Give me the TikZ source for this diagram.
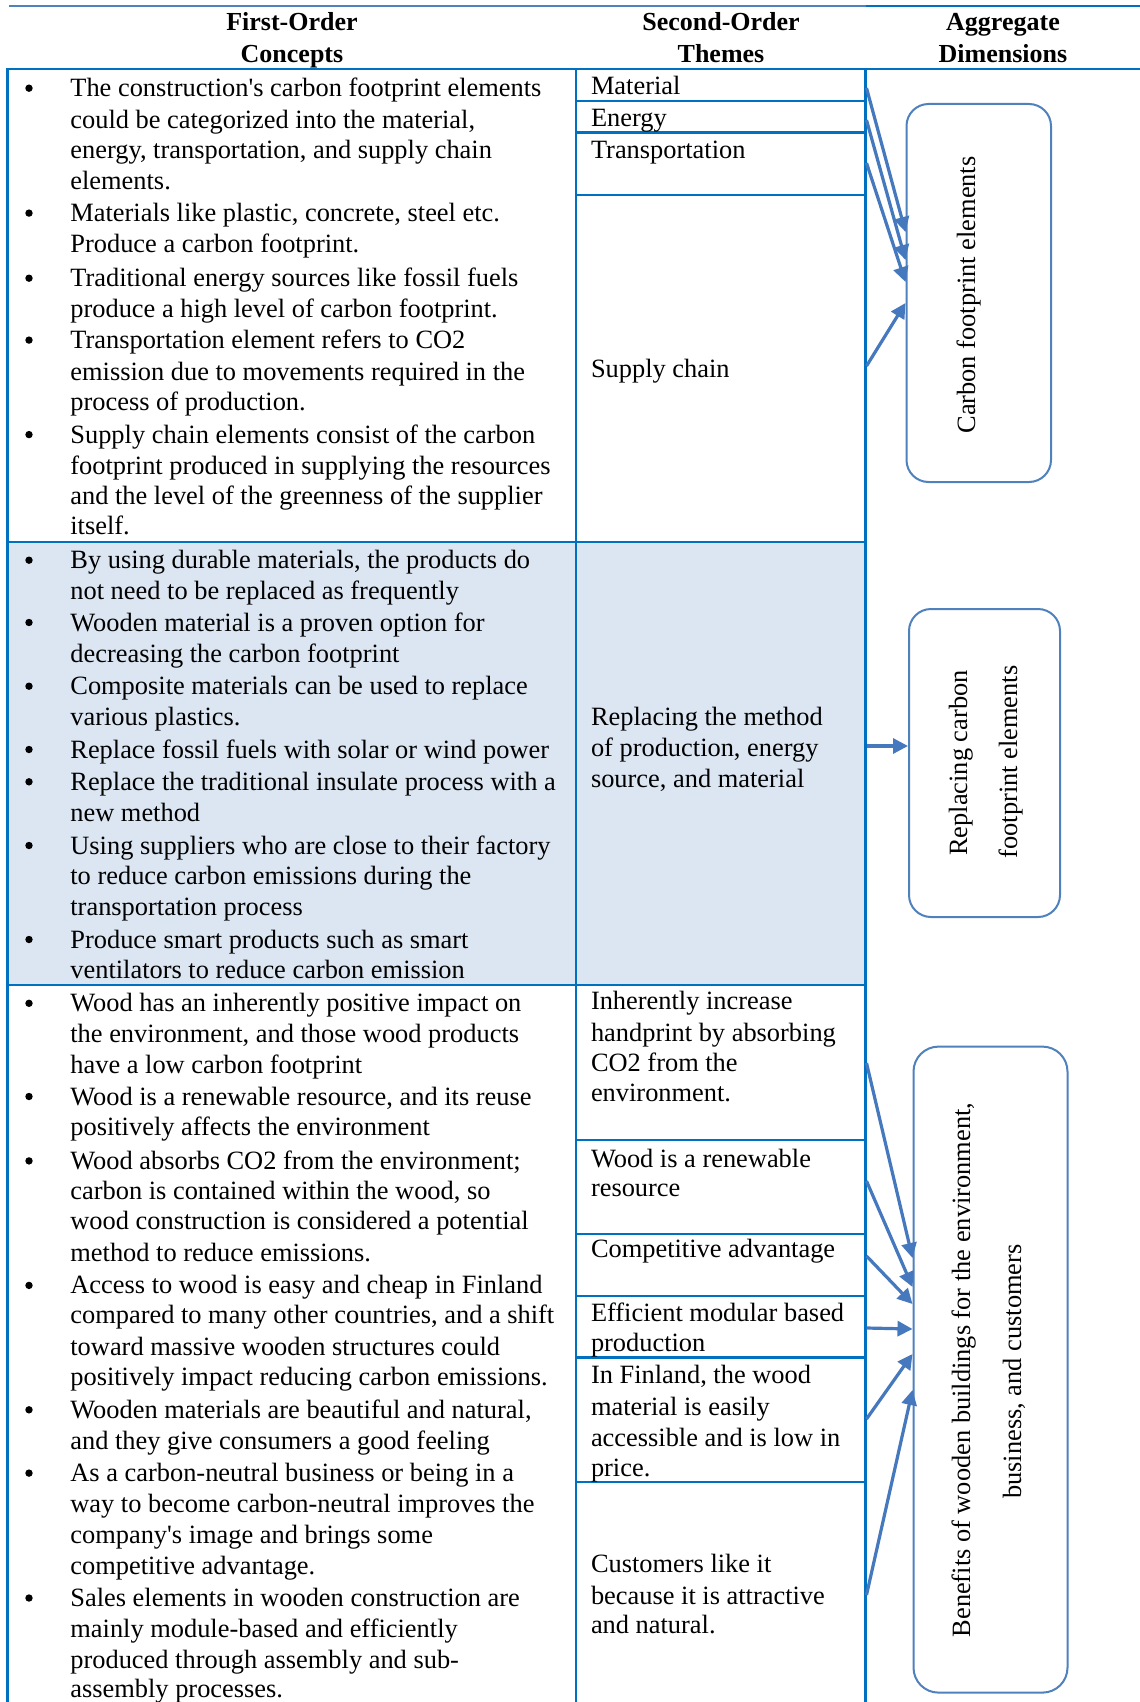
\documentclass[tikz,border=0pt]{standalone}
\usepackage{fontspec}
\setmainfont{Liberation Serif}
\usetikzlibrary{arrows.meta,fit}
\definecolor{tblue}{RGB}{0,112,192}
\definecolor{lblue}{RGB}{79,129,189}
\definecolor{ablue}{RGB}{70,120,190}
\definecolor{rowshade}{RGB}{220,230,242}
\newcommand\mytl[4]{\node[txt] (#1) at (#2,#3) {#4};}
\newcommand\mybul[2]{\node[bul] (#1) at (29,#2-8.5) {};}
\begin{document}
\begin{tikzpicture}[x=0.5pt,y=-0.5pt,
  tline/.style={draw=tblue,line width=1.2pt},
  cell/.style={draw=tblue,line width=1.2pt,inner sep=0pt,rectangle},
  txt/.style={anchor=base west,inner sep=0pt,font=\fontsize{13.2}{15}\selectfont},
  bul/.style={circle,fill=black,inner sep=0pt,minimum size=3.7pt},
  hdr/.style={anchor=base,inner sep=0pt,font=\fontsize{13}{15}\selectfont\bfseries},
  dimbox/.style={draw=lblue,line width=1pt,rounded corners=11pt,inner sep=0pt,rectangle},
  dimtxt/.style={anchor=base,rotate=90,inner sep=0pt,font=\fontsize{13.2}{15}\selectfont},
  arr/.style={draw=ablue,line width=1.6pt,-{Triangle[length=7.5pt,width=7.5pt]}}
]
\useasboundingbox (0,0) rectangle (1140,1702);
\clip (0,0) rectangle (1140,1702);
\fill[white] (0,0) rectangle (1140,1702);

% header lines
\draw[draw=lblue,line width=1.2pt] (8.7,6) -- (866,6);
\draw[tline] (866,6) -- (1140,6);
\node[hdr] (h1a) at (292,30.5) {First-Order};
\node[hdr] (h1b) at (292,62.7) {Concepts};
\node[hdr] (h2a) at (721,30.5) {Second-Order};
\node[hdr] (h2b) at (721,62.7) {Themes};
\node[hdr] (h3a) at (1003,30.5) {Aggregate};
\node[hdr] (h3b) at (1003,62.7) {Dimensions};

% table cells
\node[cell,fill=rowshade,fit={(7.6,541.7) (865.3,985)}] (shaderow) {};
\node[cell,fit={(7.6,69) (576,541.7)}] (r1) {};
\node[cell,fit={(7.6,541.7) (576,985)}] (r2) {};
\node[cell,fit={(7.6,985) (576,1730)}] (r3) {};
\node[cell,fit={(576,69) (865.3,101.3)}] (mat) {};
\node[cell,fit={(576,101.3) (865.3,132.7)}] (ene) {};
\node[cell,fit={(576,132.7) (865.3,195)}] (tra) {};
\node[cell,fit={(576,195) (865.3,541.7)}] (sup) {};
\node[cell,fit={(576,541.7) (865.3,985)}] (rep) {};
\node[cell,fit={(576,985) (865.3,1140)}] (inh) {};
\node[cell,fit={(576,1140) (865.3,1234)}] (ren) {};
\node[cell,fit={(576,1234) (865.3,1296)}] (com) {};
\node[cell,fit={(576,1296) (865.3,1357.5)}] (eff) {};
\node[cell,fit={(576,1357.5) (865.3,1482)}] (fin) {};
\node[cell,fit={(576,1482) (865.3,1730)}] (cus) {};
\draw[tline] (5.8,69) -- (1140,69);
\draw[tline] (865.3,69) -- (865.3,1702);

% column 1, row 1
\mybul{b1}{96.7}
\mytl{a1}{70}{96.7}{The construction\textquotesingle s carbon footprint elements}
\mytl{a2}{70}{128.2}{could be categorized into the material,}
\mytl{a3}{70}{158.6}{energy, transportation, and supply chain}
\mytl{a4}{70}{189}{elements.}
\mybul{b2}{221.6}
\mytl{a5}{70}{221.6}{Materials like plastic, concrete, steel etc.}
\mytl{a6}{70}{252}{Produce a carbon footprint.}
\mybul{b3}{286.7}
\mytl{a7}{70}{286.7}{Traditional energy sources like fossil fuels}
\mytl{a8}{70}{317.1}{produce a high level of carbon footprint.}
\mybul{b4}{348.6}
\mytl{a9}{70}{348.6}{Transportation element refers to CO2}
\mytl{a10}{70}{380.1}{emission due to movements required in the}
\mytl{a11}{70}{410.5}{process of production.}
\mybul{b5}{443.1}
\mytl{a12}{70}{443.1}{Supply chain elements consist of the carbon}
\mytl{a13}{70}{474.5}{footprint produced in supplying the resources}
\mytl{a14}{70}{504.9}{and the level of the greenness of the supplier}
\mytl{a15}{70}{534}{itself.}

% column 1, row 2
\mybul{b6}{568.7}
\mytl{c1}{70}{568.7}{By using durable materials, the products do}
\mytl{c2}{70}{599.7}{not need to be replaced as frequently}
\mybul{b7}{631}
\mytl{c3}{70}{631}{Wooden material is a proven option for}
\mytl{c4}{70}{662}{decreasing the carbon footprint}
\mybul{b8}{694.7}
\mytl{c5}{70}{694.7}{Composite materials can be used to replace}
\mytl{c6}{70}{725.3}{various plastics.}
\mybul{b9}{758}
\mytl{c7}{70}{758}{Replace fossil fuels with solar or wind power}
\mybul{b10}{790.3}
\mytl{c8}{70}{790.3}{Replace the traditional insulate process with a}
\mytl{c9}{70}{821.3}{new method}
\mybul{b11}{854}
\mytl{c10}{70}{854}{Using suppliers who are close to their factory}
\mytl{c11}{70}{884.5}{to reduce carbon emissions during the}
\mytl{c12}{70}{915.5}{transportation process}
\mybul{b12}{948}
\mytl{c13}{70}{948}{Produce smart products such as smart}
\mytl{c14}{70}{978.7}{ventilators to reduce carbon emission}

% column 1, row 3
\mybul{b13}{1011.8}
\mytl{d1}{70}{1011.8}{Wood has an inherently positive impact on}
\mytl{d2}{70}{1042.8}{the environment, and those wood products}
\mytl{d3}{70}{1073.9}{have a low carbon footprint}
\mybul{b14}{1105}
\mytl{d4}{70}{1105}{Wood is a renewable resource, and its reuse}
\mytl{d5}{70}{1135}{positively affects the environment}
\mybul{b15}{1169.4}
\mytl{d6}{70}{1169.4}{Wood absorbs CO2 from the environment;}
\mytl{d7}{70}{1199.4}{carbon is contained within the wood, so}
\mytl{d8}{70}{1229.4}{wood construction is considered a potential}
\mytl{d9}{70}{1261.5}{method to reduce emissions.}
\mybul{b16}{1293.9}
\mytl{d10}{70}{1293.9}{Access to wood is easy and cheap in Finland}
\mytl{d11}{70}{1323.9}{compared to many other countries, and a shift}
\mytl{d12}{70}{1355}{toward massive wooden structures could}
\mytl{d13}{70}{1385}{positively impact reducing carbon emissions.}
\mybul{b17}{1418.3}
\mytl{d14}{70}{1418.3}{Wooden materials are beautiful and natural,}
\mytl{d15}{70}{1449.4}{and they give consumers a good feeling}
\mybul{b18}{1481.6}
\mytl{d16}{70}{1481.6}{As a carbon-neutral business or being in a}
\mytl{d17}{70}{1512.1}{way to become carbon-neutral improves the}
\mytl{d18}{70}{1543.2}{company\textquotesingle s image and brings some}
\mytl{d19}{70}{1574.3}{competitive advantage.}
\mybul{b19}{1606.5}
\mytl{d20}{70}{1606.5}{Sales elements in wooden construction are}
\mytl{d21}{70}{1637.6}{mainly module-based and efficiently}
\mytl{d22}{70}{1668.7}{produced through assembly and sub-}
\mytl{d23}{70}{1697.6}{assembly processes.}

% column 2 texts
\mytl{t1}{590.6}{94.4}{Material}
\mytl{t2}{590.6}{126.1}{Energy}
\mytl{t3}{590.6}{158.4}{Transportation}
\mytl{t4}{590.6}{377.1}{Supply chain}
\mytl{t5}{590.6}{725}{Replacing the method}
\mytl{t6}{590.6}{756}{of production, energy}
\mytl{t7}{590.6}{787.8}{source, and material}
\mytl{t8}{590.6}{1009.6}{Inherently increase}
\mytl{t9}{590.6}{1041.7}{handprint by absorbing}
\mytl{t10}{590.6}{1071}{CO2 from the}
\mytl{t11}{590.6}{1101.4}{environment.}
\mytl{t12}{590.6}{1167}{Wood is a renewable}
\mytl{t13}{590.6}{1196.2}{resource}
\mytl{t14}{590.6}{1257.5}{Competitive advantage}
\mytl{t15}{590.6}{1321.8}{Efficient modular based}
\mytl{t16}{590.6}{1351.8}{production}
\mytl{t17}{590.6}{1383.8}{In Finland, the wood}
\mytl{t18}{590.6}{1415.2}{material is easily}
\mytl{t19}{590.6}{1446.1}{accessible and is low in}
\mytl{t20}{590.6}{1476.1}{price.}
\mytl{t21}{590.6}{1572.1}{Customers like it}
\mytl{t22}{590.6}{1604.1}{because it is attractive}
\mytl{t23}{590.6}{1633.1}{and natural.}

% aggregate dimension boxes
\node[dimbox,minimum width=72.25pt,minimum height=189pt] (cfe) at (978.75,293) {};
\node[dimtxt] (cfet) at (975,295) {Carbon footprint elements};
\node[dimbox,minimum width=75.5pt,minimum height=154pt] (rbox) at (984.5,763) {};
\node[dimtxt] (rbt1) at (967,763) {Replacing carbon};
\node[dimtxt] (rbt2) at (1017,762) {footprint elements};
\node[dimbox,minimum width=77pt,minimum height=323pt,rounded corners=12.5pt] (ben) at (990.5,1369.6) {};
\node[dimtxt] (bent1) at (970,1370) {Benefits of wooden buildings for the environment,};
\node[dimtxt] (bent2) at (1021,1371.5) {business, and customers};

% connectors
\draw[arr] (mat.east |- 0,88) -- (cfe.west |- 0,232);
\draw[arr] (ene.east |- 0,120) -- (cfe.west |- 0,260);
\draw[arr] (tra.east |- 0,163) -- (cfe.west |- 0,282);
\draw[arr] (sup.east |- 0,366) -- (cfe.west |- 0,303);
\draw[arr] (rep.east |- 0,746) -- (rbox.west |- 0,746);
\draw[arr] (inh.east |- 0,1063) -- (ben.west |- 0,1258);
\draw[arr] (ren.east |- 0,1181) -- (ben.west |- 0,1287);
\draw[arr] (com.east |- 0,1256) -- (ben.west |- 0,1304);
\draw[arr] (eff.east |- 0,1328) -- (ben.west |- 0,1329);
\draw[arr] (fin.east |- 0,1419) -- (ben.west |- 0,1354);
\draw[arr] (cus.east |- 0,1595) -- (ben.west |- 0,1390);
\end{tikzpicture}
\end{document}
